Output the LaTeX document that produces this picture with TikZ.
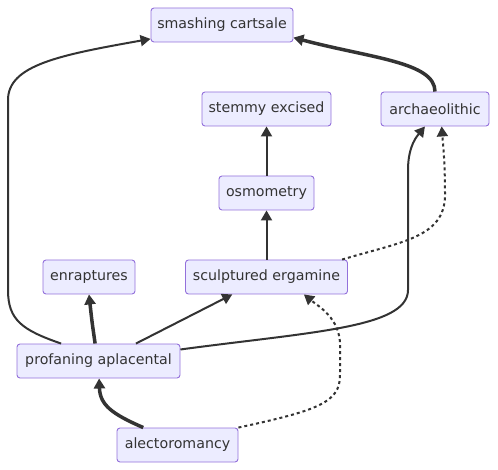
\documentclass[tikz,border=0pt]{standalone}
\usepackage{fontspec}
\setmainfont{DejaVu Sans}
\usepackage{xcolor}
\usetikzlibrary{arrows.meta,positioning,calc}
\definecolor{mmfill}{HTML}{ECECFF}
\definecolor{mmborder}{HTML}{9370DB}
\definecolor{mmtext}{HTML}{333333}
\definecolor{mmline}{HTML}{333333}
\tikzset{
  box/.style={rectangle, rounded corners=3pt, draw=mmborder, fill=mmfill,
              text=mmtext, align=center, font=\fontsize{14.2}{16}\selectfont,
              minimum height=34pt, inner sep=0pt, line width=0.9pt},
  ar/.style={-{Triangle[length=10pt,width=11pt]}, draw=mmline, line width=2pt},
  tk/.style={ar, line width=3.5pt},
  dt/.style={ar, dash pattern=on 3pt off 3pt},
}
\begin{document}
\begin{tikzpicture}[x=1pt,y=-1pt]
\useasboundingbox (0,0) rectangle (498,470);
% --- nodes
\node[box,minimum width=142pt] (sc) at (222,25) {smashing cartsale};
\node[box,minimum width=129pt] (se) at (266.5,109) {stemmy excised};
\node[box,minimum width=108pt] (ar) at (435,109) {archaeolithic};
\node[box,minimum width=95pt]  (os) at (266.5,193) {osmometry};
\node[box,minimum width=92pt]  (en) at (89,277) {enraptures};
\node[box,minimum width=162pt] (sg) at (266.5,277) {sculptured ergamine};
\node[box,minimum width=163pt] (pa) at (98.5,361) {profaning aplacental};
\node[box,minimum width=121pt] (al) at (177.5,445) {alectoromancy};

% --- edges
\draw[ar] (pa.155) .. controls (22,330) and (8,320) .. (8,290) -- (8,100)
   .. controls (8,65) and (60,55) .. (sc.191);
\draw[tk] (ar.north) .. controls (435,62) and (370,58) .. (sc.-10);
\draw[ar] (os.north) -- (se.south);
\draw[ar] (sg.north) -- (os.south);
\draw[tk] (pa.101) .. controls (92,322) .. (en.south);
\draw[ar] (pa.25) -- (sg.207);
\draw[ar] (pa.8) .. controls (310,332) and (408,328) .. (408,290) -- (408,170)
   .. controls (408,145) and (418,135) .. (ar.240);
\draw[dt] (sg.13) .. controls (400,242) and (445,238) .. (445,195)
   .. controls (445,160) and (443,145) .. (ar.291);
\draw[tk] (al.153) .. controls (112,414) and (100,405) .. (pa.-88);
\draw[dt] (al.north east) .. controls (320,410) and (340,402) .. (340,375) -- (340,345)
   .. controls (340,318) and (318,306) .. (sg.-25);
\end{tikzpicture}
\end{document}
